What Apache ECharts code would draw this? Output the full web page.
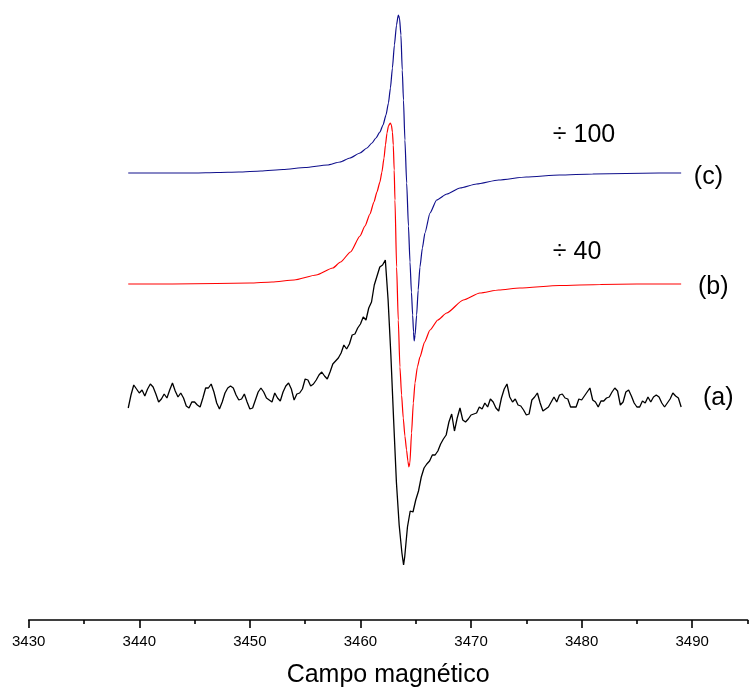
<!DOCTYPE html>
<html>
<head>
<meta charset="utf-8">
<script src="https://cdn.jsdelivr.net/npm/echarts@6/dist/echarts.min.js"></script>
<style>
  html, body { margin: 0; padding: 0; background: #fff; }
  #chart { width: 749px; height: 690px; }
</style>
</head>
<body>
<div id="chart"></div>
<script>
// EPR spectra (field in G), traces stacked with vertical offsets

// (c) blue trace, scaled ÷100
const fieldC = [3439, 3441, 3443, 3445, 3447, 3449, 3451, 3453, 3455, 3457,
  3458.16, 3459.05, 3459.96, 3460.59, 3461.04, 3461.40, 3461.76, 3462.04, 3462.31, 3462.53,
  3462.71, 3462.89, 3463.07, 3463.26, 3463.42, 3463.53, 3463.66, 3463.78, 3463.89, 3464.02,
  3464.18, 3464.34, 3464.48, 3464.61, 3464.72, 3464.80, 3464.86, 3464.94, 3465.08, 3465.22,
  3465.38, 3465.60, 3465.83, 3466.29, 3466.89, 3467.82, 3469.0,
  3470.5, 3472.5, 3475, 3478, 3481, 3484, 3487, 3489];
const signalC = [0, 0, 0, 0, 0.5, 1, 2, 3.5, 5.5, 8,
  11, 15, 20, 25, 30, 35, 41, 48, 58, 70,
  85, 105, 128, 148, 158, 155, 138, 103, 73, 33,
  -10, -53, -89, -119, -142, -159, -168, -162, -142, -117,
  -94, -75, -60, -40, -27, -21, -15,
  -11, -7, -4, -2, -1, -0.5, 0, 0];

// (b) red trace, scaled ÷40
const fieldB = [3439, 3443, 3447, 3450, 3452, 3454, 3456, 3457.5, 3458.2, 3459.1,
  3459.96, 3460.41, 3460.86, 3461.22, 3461.49, 3461.76, 3461.94, 3462.13, 3462.26, 3462.40,
  3462.53, 3462.69, 3462.80, 3462.89, 3462.97, 3463.05, 3463.12, 3463.27, 3463.42, 3463.57,
  3463.72, 3463.87, 3464.02, 3464.17, 3464.29, 3464.38, 3464.47, 3464.62, 3464.78, 3464.93,
  3465.15, 3465.38, 3465.8, 3466.29, 3467.0, 3467.8, 3469.3, 3470.8, 3472.5, 3474.4,
  3478, 3481.7, 3485, 3489];
const signalB = [0, 0, 0.5, 1, 2, 4, 9, 16, 22, 32,
  48, 58, 70, 82, 92, 102, 112, 126, 139, 151,
  158, 161, 159, 152, 139, 114, 84, 17, -36, -83,
  -111, -134, -152, -166, -177, -183, -179, -149, -119, -99,
  -83, -73, -58, -46, -36, -29, -16, -9, -6, -4,
  -1.5, -0.5, 0, 0];

// (a) black trace, unscaled
const fieldA = [
  3439, 3439.25, 3439.5, 3439.75, 3440, 3440.25, 3440.5, 3440.75,
  3441, 3441.25, 3441.5, 3441.75, 3442, 3442.25, 3442.5, 3442.75,
  3443, 3443.25, 3443.5, 3443.75, 3444, 3444.25, 3444.5, 3444.75,
  3445, 3445.25, 3445.5, 3445.75, 3446, 3446.25, 3446.5, 3446.75,
  3447, 3447.25, 3447.5, 3447.75, 3448, 3448.25, 3448.5, 3448.75,
  3449, 3449.25, 3449.5, 3449.75, 3450, 3450.25, 3450.5, 3450.75,
  3451, 3451.25, 3451.5, 3451.75, 3452, 3452.25, 3452.5, 3452.75,
  3453, 3453.25, 3453.5, 3453.75, 3454, 3454.25, 3454.5, 3454.75,
  3455, 3455.25, 3455.5, 3455.75, 3456, 3456.25, 3456.5, 3456.75,
  3457, 3457.25, 3457.5, 3457.75, 3458, 3458.25, 3458.5, 3458.75,
  3459, 3459.25, 3459.5, 3459.75, 3460, 3460.25, 3460.5, 3460.75,
  3461, 3461.25, 3461.5, 3461.75, 3462, 3462.25, 3462.5, 3462.75,
  3463, 3463.25, 3463.5, 3463.75, 3463.9, 3464, 3464.25, 3464.5, 3464.75,
  3465, 3465.25, 3465.5, 3465.75, 3466, 3466.25, 3466.5, 3466.75,
  3467, 3467.25, 3467.5, 3467.75, 3468, 3468.25, 3468.5, 3468.75,
  3469, 3469.25, 3469.5, 3469.75, 3470, 3470.25, 3470.5, 3470.75,
  3471, 3471.25, 3471.5, 3471.75, 3472, 3472.25, 3472.5, 3472.75,
  3473, 3473.25, 3473.5, 3473.75, 3474, 3474.25, 3474.5, 3474.75,
  3475, 3475.25, 3475.5, 3475.75, 3476, 3476.25, 3476.5, 3476.75,
  3477, 3477.25, 3477.5, 3477.75, 3478, 3478.25, 3478.5, 3478.75,
  3479, 3479.25, 3479.5, 3479.75, 3480, 3480.25, 3480.5, 3480.75,
  3481, 3481.25, 3481.5, 3481.75, 3482, 3482.25, 3482.5, 3482.75,
  3483, 3483.25, 3483.5, 3483.75, 3484, 3484.25, 3484.5, 3484.75,
  3485, 3485.25, 3485.5, 3485.75, 3486, 3486.25, 3486.5, 3486.75,
  3487, 3487.25, 3487.5, 3487.75, 3488, 3488.25, 3488.5, 3488.75,
  3489];
const signalA = [
  -10, 3, 13, 9, 5, 8, 2, 9,
  14, 11, 4, -4, -1, 4, 0, 8,
  15, 7, 1, 5, 0, -8, -10, -4,
  -4, -7, -9, 0, 10, 10, 14, 6,
  -5, -11, -4, 5, 10, 12, 10, 3,
  -2, -1, 4, -4, -11, -10, -2, 6,
  10, 6, 0, -2, -4, 5, 0, -3,
  6, 12, 15, 9, -2, 4, 5, 9,
  19, 18, 12, 14, 18, 23, 26, 22,
  19, 26, 34, 37, 40, 45, 53, 49,
  54, 63, 64, 70, 74, 81, 78, 90,
  96, 113, 122, 131, 133, 138, 98, 43,
  -22, -84, -127, -155, -167, -159, -129, -113, -114,
  -102, -93, -79, -70, -66, -63, -57, -57,
  -53, -46, -41, -37, -24, -16, -33, -20,
  -10, -22, -24, -21, -17, -16, -15, -9,
  -11, -5, -9, -1, -4, -10, -13, 0,
  9, 14, 1, -4, -1, -7, -8, -12,
  -17, -16, -2, 1, 5, -5, -13, -11,
  -9, -4, 1, -4, 3, 4, 0, -1,
  -9, -9, -9, -1, -2, 2, 6, 10,
  -2, -4, -9, -3, -3, 0, 1, 6,
  10, 7, -7, -4, 6, 8, 2, -5,
  -9, -9, -3, -5, 1, -4, 1, 3,
  1, -5, -9, -5, -1, 5, 2, 0,
  -9];

// vertical stacking offsets of the three traces
const offsetA = 222, offsetB = 336, offsetC = 447;

const majorTicks = [3430, 3440, 3450, 3460, 3470, 3480, 3490];
const minorTicks = [3435, 3445, 3455, 3465, 3475, 3485, 3495];

const FONT = '"Liberation Sans", Arial, Helvetica, sans-serif';

function pairs(fields, signal, offset) {
  return fields.map((f, i) => [f, offset + signal[i]]);
}

const chart = echarts.init(document.getElementById('chart'), null, { renderer: 'canvas' });

const axisLineStyle = { color: '#000', width: 1.6 };

chart.setOption({
  animation: false,
  backgroundColor: '#fff',
  grid: { left: 28.7, right: 1.5, top: 0, bottom: 70, containLabel: false, outerBoundsMode: 'none' },
  xAxis: [
    {
      type: 'value', min: 3430, max: 3495,
      axisLine: { show: true, lineStyle: axisLineStyle },
      axisTick: { show: true, inside: false, length: 8, lineStyle: axisLineStyle, customValues: majorTicks },
      axisLabel: {
        show: true, customValues: majorTicks, margin: 14,
        formatter: v => String(v),
        color: '#000', fontSize: 15, fontFamily: FONT
      },
      splitLine: { show: false },
      name: 'Campo magnético', nameLocation: 'middle', nameGap: 43,
      nameTextStyle: { color: '#000', fontSize: 25, fontFamily: FONT }
    },
    {
      type: 'value', min: 3430, max: 3495, position: 'bottom',
      axisLine: { show: false },
      axisTick: { show: true, inside: false, length: 4, lineStyle: axisLineStyle, customValues: minorTicks },
      axisLabel: { show: false },
      splitLine: { show: false }
    }
  ],
  yAxis: { type: 'value', min: 0, max: 620, show: false, splitLine: { show: false } },
  series: [
    {
      name: '(a)', type: 'line', xAxisIndex: 0, data: pairs(fieldA, signalA, offsetA),
      symbol: 'none', lineStyle: { color: '#000', width: 1.3 }, z: 3
    },
    {
      name: '(b)', type: 'line', xAxisIndex: 0, data: pairs(fieldB, signalB, offsetB),
      symbol: 'none', smooth: 0.2, smoothMonotone: 'x',
      lineStyle: { color: '#ff0000', width: 1.2 }, z: 4
    },
    {
      name: '(c)', type: 'line', xAxisIndex: 0, data: pairs(fieldC, signalC, offsetC),
      symbol: 'none', smooth: 0.2, smoothMonotone: 'x',
      lineStyle: { color: '#10108c', width: 1.2 }, z: 5
    }
  ]
});

// trace annotations anchored in data coordinates
const notes = [
  { text: '(c)', at: [3490.15, 443] },
  { text: '(b)', at: [3490.52, 333] },
  { text: '(a)', at: [3490.97, 222] },
  { text: '\u00f7 100', at: [3477.4, 485] },
  { text: '\u00f7 40', at: [3477.4, 368] }
];
chart.setOption({
  graphic: notes.map(n => {
    const p = chart.convertToPixel({ xAxisIndex: 0, yAxisIndex: 0 }, n.at);
    return {
      type: 'text', x: p[0], y: p[1],
      style: { text: n.text, fill: '#000', font: '25px ' + FONT, textAlign: 'left', textVerticalAlign: 'middle' }
    };
  })
});
</script>
</body>
</html>
